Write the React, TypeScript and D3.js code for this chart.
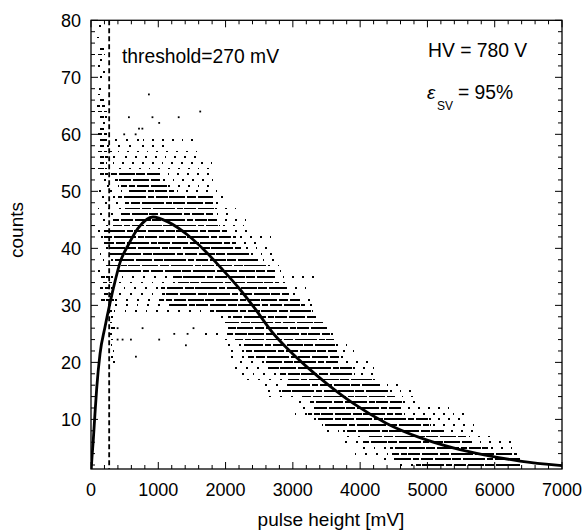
import React, { useEffect, useRef } from 'react';
import * as d3 from 'd3';

const xTickValues = [0, 1000, 2000, 3000, 4000, 5000, 6000, 7000];
const yTickValues = [10, 20, 30, 40, 50, 60, 70, 80];

// histogram rows (mV): each count level has a dense band with sparse tails
const rowCounts = [2, 3, 4, 5, 6, 7, 8, 9, 10, 11, 12, 13, 14, 15, 16, 17, 18, 19, 20, 21, 22, 23, 24, 25, 26, 27, 28, 29, 30, 31, 32, 33, 34, 35, 36, 37, 38, 39, 40, 41, 42, 43, 44, 45, 46, 47, 48, 49, 50, 51, 52, 53, 54, 55, 56, 57, 58, 59];
const rowSparseStart = [4520, 4330, 3930, 3940, 3720, 3800, 3380, 3400, 3280, 3030, 3050, 3030, 2630, 2500, 2500, 2280, 2240, 2030, 2150, 2060, 1940, 1940, 1940, 1690, 1930, 1940, 1900, 500, 250, 300, 400, 350, 330, 250, 100, 100, 100, 100, 100, 100, 100, 100, 100, 100, 100, 100, 100, 100, 100, 100, 100, 100, 100, 100, 100, 100, 100, 100];
const rowDenseStart = [4830, 4500, 4480, 4440, 4040, 4140, 3750, 3430, 3380, 3230, 3300, 3280, 3130, 2830, 2930, 2930, 2780, 2630, 2580, 2330, 2310, 2280, 2140, 2040, 2040, 1990, 2040, 1790, 1190, 1020, 1070, 1040, 1290, 1190, 400, 230, 300, 300, 230, 230, 200, 200, 327, 327, 450, 500, 500, 400, 560, 450, 350, 300, 500, 330, 450, 400, 700, 780];
const rowDenseEnd = [6350, 6350, 6300, 5880, 5640, 5550, 5220, 5030, 5030, 4590, 4590, 4590, 4490, 4390, 4270, 4150, 3900, 3850, 3680, 3680, 3630, 3600, 3580, 3530, 3500, 3450, 3350, 3250, 3160, 3060, 2910, 2860, 2760, 2680, 2710, 2610, 2460, 2360, 2215, 2115, 2135, 1990, 1887, 1840, 1790, 1840, 1790, 1790, 1200, 1150, 1000, 1000, 500, 330, 450, 400, 700, 780];
const rowSparseEnd = [6400, 6400, 6300, 6250, 6250, 5900, 5730, 5730, 5480, 5510, 5300, 4890, 4760, 4760, 4590, 4300, 4270, 4190, 4190, 3830, 3950, 3850, 3640, 3640, 3500, 3450, 3400, 3330, 3380, 3350, 3080, 3250, 2930, 3350, 2860, 2810, 2810, 2680, 2710, 2510, 2710, 2360, 2240, 2285, 2135, 2240, 1937, 1937, 1840, 1790, 1790, 1840, 1840, 1790, 1660, 1660, 1170, 1540];

// points below the threshold (noise)
const noiseCounts = [80, 79, 77, 75, 74, 73, 72, 71, 70, 68, 67, 66, 65, 64, 63, 62, 61, 60, 59, 58, 57, 56, 55, 54, 53, 35, 34, 33, 32, 31, 30, 29, 28, 27, 26, 25, 24, 23, 22, 21, 20];
const noiseFrom = [120, 120, 90, 134, 110, 134, 110, 183, 134, 120, 110, 134, 84, 110, 134, 183, 134, 110, 134, 134, 110, 134, 134, 134, 134, 150, 180, 130, 200, 150, 250, 260, 300, 280, 300, 280, 300, 290, 320, 300, 330];
const noiseTo = [120, 120, 90, 160, 183, 134, 110, 183, 134, 120, 110, 183, 183, 233, 208, 183, 183, 208, 208, 183, 208, 233, 183, 208, 233, 300, 280, 300, 300, 320, 300, 330, 300, 280, 350, 280, 300, 290, 320, 300, 330];

// isolated points
const outlierMv = [382, 753, 382, 456, 580, 1000, 654, 1397, 1224, 1422, 1510, 847, 550, 900, 1290, 1610, 480, 650, 700, 750, 1000];
const outlierCounts = [26, 26, 24, 24, 24, 24, 21, 23, 25, 25, 26, 67, 63, 63, 63, 64, 60, 60, 61, 61, 62];

// fitted curve
const fitMv = [0, 10, 34, 59, 85, 134, 208, 282, 357, 431, 550, 698, 921, 1150, 1441, 1700, 1937, 2200, 2432, 2700, 2928, 3200, 3522, 3898, 4394, 4889, 5384, 5880, 6375, 7000];
const fitCounts = [0.5, 2.5, 6.4, 11, 15.5, 21.5, 26.2, 30.4, 34.2, 37.5, 40.5, 43.5, 45.5, 44.6, 42.3, 39.5, 36.5, 33, 29.5, 25.2, 22.3, 19.3, 16.1, 12.8, 9.3, 6.8, 5, 3.7, 2.7, 1.9];

const threshold = 270;

export default function App() {
  const ref = useRef<SVGSVGElement>(null);

  useEffect(() => {
    const svg = d3.select(ref.current);
    svg.selectAll('*').remove();
    const left = 91, right = 562, top = 20.3, bottom = 469;
    const font = "'Liberation Sans', Arial, sans-serif";

    const x = d3.scaleLinear().domain([0, 7000]).range([left, right]);
    const y = d3.scaleLinear().domain([1.3, 80]).range([bottom, top]);

    svg.append('defs').append('clipPath').attr('id', 'plot')
      .append('rect').attr('x', left).attr('y', top).attr('width', right - left).attr('height', bottom - top);

    const g = svg.append('g').attr('clip-path', 'url(#plot)');

    // rows of dots
    const rows = rowCounts.map((c, i) => ({
      c, s0: rowSparseStart[i], d0: rowDenseStart[i], d1: rowDenseEnd[i], s1: rowSparseEnd[i],
    }));
    const seg = (x0: number, x1: number, c: number, dash: string, offset: number) => {
      if (x1 - x0 <= 0) return;
      g.append('line')
        .attr('x1', x(x0)).attr('x2', x(x1) + 1.8)
        .attr('y1', y(c)).attr('y2', y(c))
        .attr('stroke', '#000').attr('stroke-width', 1.8)
        .attr('stroke-dasharray', dash).attr('stroke-dashoffset', offset)
        .attr('shape-rendering', 'crispEdges');
    };
    rows.forEach(r => {
      seg(r.s0, r.d0, r.c, '1.8 9', r.c * 3);
      seg(r.d0, r.d1, r.c, '16 1.6 9 1.8 22 2 6 1.6 12 1.8', r.c * 11);
      seg(r.d1, r.s1, r.c, '1.8 8', r.c * 5);
    });

    noiseCounts.forEach((c, i) => {
      g.append('line')
        .attr('x1', x(noiseFrom[i])).attr('x2', x(noiseTo[i]) + 1.8)
        .attr('y1', y(c)).attr('y2', y(c))
        .attr('stroke', '#000').attr('stroke-width', 1.8)
        .attr('stroke-dasharray', '3.6 1.8')
        .attr('shape-rendering', 'crispEdges');
    });

    g.selectAll('.out')
      .data(outlierMv.map((v, i) => [v, outlierCounts[i]]))
      .join('rect')
      .attr('x', d => x(d[0])).attr('y', d => y(d[1]) - 0.9)
      .attr('width', 1.8).attr('height', 1.8).attr('fill', '#000');

    // threshold line
    g.append('line')
      .attr('x1', x(threshold)).attr('x2', x(threshold))
      .attr('y1', top).attr('y2', bottom)
      .attr('stroke', '#000').attr('stroke-width', 1.8)
      .attr('stroke-dasharray', '5 3');

    // fit
    const line = d3.line<number>().x((d, i) => x(fitMv[i])).y(d => y(d)).curve(d3.curveMonotoneX);
    g.append('path').attr('d', line(fitCounts) as string)
      .attr('fill', 'none').attr('stroke', '#000').attr('stroke-width', 2.8);

    // frame + ticks
    svg.append('rect')
      .attr('x', left).attr('y', top).attr('width', right - left).attr('height', bottom - top)
      .attr('fill', 'none').attr('stroke', '#000').attr('stroke-width', 1.3);

    const xMinor = d3.range(0, 7001, 200);
    const yMinor = d3.range(2, 81, 2);
    const ticks = svg.append('g').attr('stroke', '#000').attr('stroke-width', 1);
    xMinor.forEach(v => {
      const len = v % 1000 === 0 ? 7 : 4;
      ticks.append('line').attr('x1', x(v)).attr('x2', x(v)).attr('y1', bottom).attr('y2', bottom - len);
      ticks.append('line').attr('x1', x(v)).attr('x2', x(v)).attr('y1', top).attr('y2', top + len);
    });
    yMinor.forEach(v => {
      const len = v % 10 === 0 ? 7 : 4;
      ticks.append('line').attr('x1', left).attr('x2', left + len).attr('y1', y(v)).attr('y2', y(v));
      ticks.append('line').attr('x1', right).attr('x2', right - len).attr('y1', y(v)).attr('y2', y(v));
    });

    svg.append('g').selectAll('text').data(xTickValues).join('text')
      .attr('x', d => x(d)).attr('y', 496)
      .attr('text-anchor', 'middle').attr('font-family', font).attr('font-size', 18)
      .text(d => String(d));
    svg.append('g').selectAll('text').data(yTickValues).join('text')
      .attr('x', 81).attr('y', d => y(d) + 6.5)
      .attr('text-anchor', 'end').attr('font-family', font).attr('font-size', 18)
      .text(d => String(d));

    svg.append('text').attr('x', 331).attr('y', 526).attr('text-anchor', 'middle')
      .attr('font-family', font).attr('font-size', 19).text('pulse height [mV]');
    svg.append('text').attr('transform', 'translate(23,230) rotate(-90)').attr('text-anchor', 'middle')
      .attr('font-family', font).attr('font-size', 19).text('counts');

    svg.append('text').attr('x', 122).attr('y', 63)
      .attr('font-family', font).attr('font-size', 19.3).text('threshold=270 mV');
    svg.append('text').attr('x', 428).attr('y', 57)
      .attr('font-family', font).attr('font-size', 19.3).text('HV = 780 V');
    svg.append('text').attr('x', 427).attr('y', 99)
      .attr('font-family', font).attr('font-size', 19).attr('font-style', 'italic').text('ε');
    svg.append('text').attr('x', 437).attr('y', 110)
      .attr('font-family', font).attr('font-size', 12).text('SV');
    svg.append('text').attr('x', 458).attr('y', 99)
      .attr('font-family', font).attr('font-size', 19.3).text('= 95%');
  }, []);

  return (
    <svg ref={ref} width={585} height={532}
      style={{ position: 'absolute', left: 0, top: 0, background: '#fff' }} />
  );
}
